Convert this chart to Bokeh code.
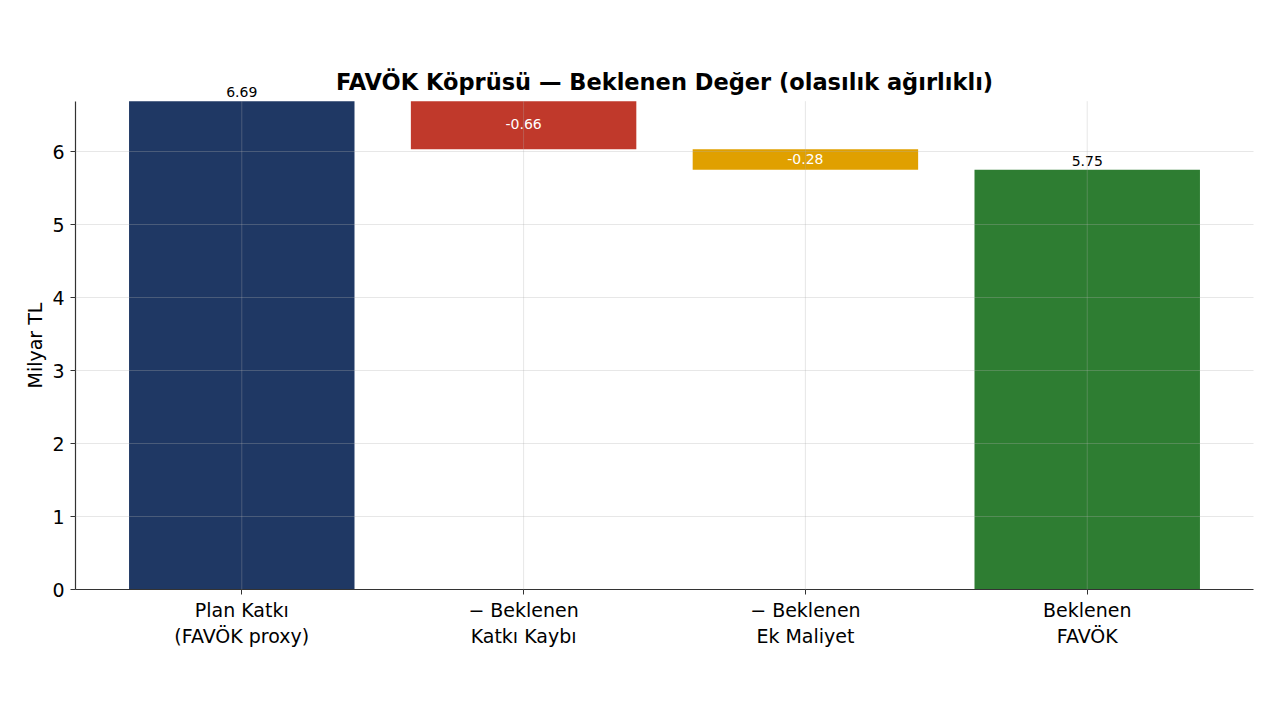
from bokeh.plotting import figure
from bokeh.models import Range1d, FixedTicker, ColumnDataSource, LabelSet, Label, Title
from bokeh.core.properties import value
from bokeh.embed import file_html
from bokeh.resources import INLINE

categories = ["Plan Katkı\n(FAVÖK proxy)", "− Beklenen\nKatkı Kaybı", "− Beklenen\nEk Maliyet", "Beklenen\nFAVÖK"]
plan = 6.69
loss = -0.66
extra_cost = -0.28
final = 5.75
colors = ["#1f3864", "#c0392b", "#e0a000", "#2e7d32"]
yticks = [0, 1, 2, 3, 4, 5, 6]
title = "FAVÖK Köprüsü — Beklenen Değer (olasılık ağırlıklı)"
ylabel = "Milyar TL"

xs = list(range(len(categories)))
bottoms = [0, plan + loss, plan + loss + extra_cost, 0]
tops = [plan, plan, plan + loss, final]
y_top = plan  # axes top in data units

# frame extends above the axes top so labels and title are not clipped
p = figure(width=1280, height=720, output_backend="svg", toolbar_location=None,
           x_range=Range1d(-0.59, 3.59), y_range=Range1d(0, 7.247),
           min_border_left=75, min_border_right=27, min_border_top=60, min_border_bottom=131)
p.outline_line_color = None
p.background_fill_color = "white"
p.border_fill_color = "white"

src = ColumnDataSource(dict(x=xs, bottom=bottoms, top=tops, color=colors))
p.vbar(x="x", bottom="bottom", top="top", width=0.8, fill_color="color", line_color=None, source=src)

# vertical grid lines limited to the axes area
p.segment(x0=xs, y0=[0] * len(xs), x1=xs, y1=[y_top] * len(xs),
          line_color="#b0b0b0", line_alpha=0.3, line_width=1, level="overlay")

# labels above totals
for xv, yv in ((0, plan), (3, final)):
    p.add_layout(Label(x=xv, y=yv, text=f"{yv:.2f}", text_align="center",
                       text_baseline="bottom", text_font="DejaVu Sans", text_font_size="14px",
                       text_color="black", y_offset=4))
inside = ColumnDataSource(dict(x=[1, 2], y=[plan + loss / 2, plan + loss + extra_cost / 2],
                               t=[f"{loss:.2f}", f"{extra_cost:.2f}"]))
p.add_layout(LabelSet(x="x", y="y", text="t", source=inside, text_align="center",
                      text_baseline="middle", text_font=value("DejaVu Sans"), text_font_size=value("14px"),
                      text_color=value("white"), y_offset=1))

# title centered over axes
p.add_layout(Label(x=1.5, y=y_top, text=title, text_align="center", text_baseline="bottom",
                   y_offset=6, text_font="DejaVu Sans", text_font_size="22.5px",
                   text_font_style="bold", text_color="black"))

p.xaxis.ticker = FixedTicker(ticks=xs)
p.xaxis.major_label_overrides = {i: c for i, c in enumerate(categories)}
p.yaxis.ticker = FixedTicker(ticks=yticks)
p.yaxis.bounds = (0, y_top)
for ax in (p.xaxis, p.yaxis):
    ax.axis_line_color = "#333333"
    ax.axis_line_width = 1.2
    ax.major_tick_line_color = "#333333"
    ax.major_tick_in = 0
    ax.major_tick_out = 5
    ax.minor_tick_line_color = None
    ax.major_label_text_font = "DejaVu Sans"
    ax.major_label_text_font_size = "19px"
    ax.major_label_text_color = "black"
    ax.major_label_standoff = 4
p.yaxis.major_label_standoff = 6

# y axis label, centred on the axes (not the whole frame)
p.add_layout(Title(text=ylabel, align="left", offset=201, text_font="DejaVu Sans",
                   text_font_size="19px", text_font_style="normal", text_color="black",
                   standoff=8), "left")

p.xgrid.visible = False
p.ygrid.grid_line_color = "#b0b0b0"
p.ygrid.grid_line_alpha = 0.3
p.ygrid.grid_line_width = 1
p.ygrid.level = "overlay"

open("out.html", "w").write(file_html(p, INLINE))
